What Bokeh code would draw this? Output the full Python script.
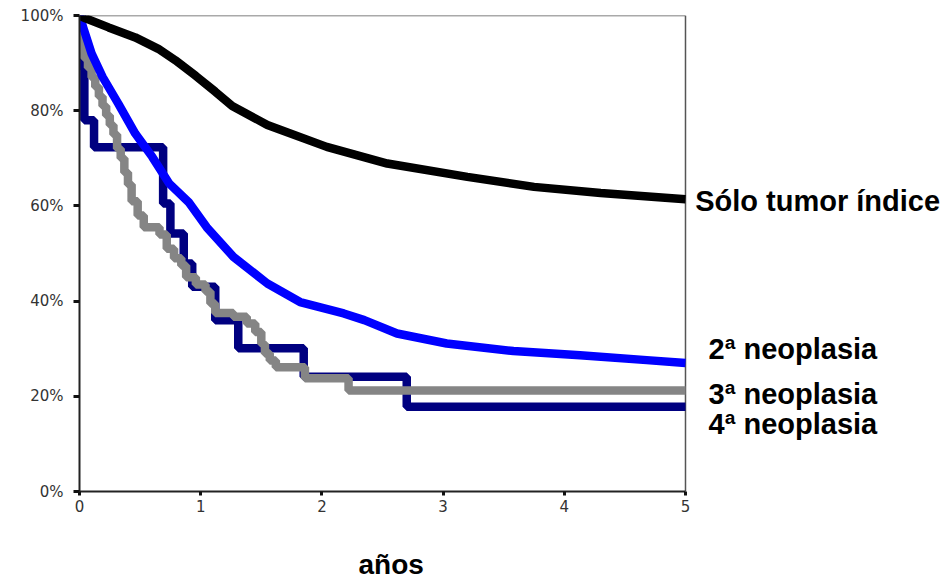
from bokeh.plotting import figure
from bokeh.models import Range1d, FixedTicker, Title
from bokeh.core.properties import value
from bokeh.embed import file_html
from bokeh.resources import INLINE

# ---- data ----
years = [0, 1, 2, 3, 4, 5]
pct_ticks = [0, 20, 40, 60, 80, 100]
pct_labels = ["0%", "20%", "40%", "60%", "80%", "100%"]

solo_t = [0, 0.05, 0.24, 0.46, 0.65, 0.79, 0.96, 1.12, 1.26, 1.55, 2.04, 2.54, 3.2, 3.75, 4.3, 5.0]
solo_s = [100, 99.4, 97.5, 95.4, 93.0, 90.6, 87.3, 84.0, 81.0, 77.0, 72.4, 68.9, 66.1, 64.0, 62.7, 61.4]

neo2_t = [0, 0.02, 0.10, 0.19, 0.32, 0.46, 0.60, 0.74, 0.90, 1.05, 1.27, 1.55, 1.82, 2.18,
          2.35, 2.62, 3.03, 3.58, 4.13, 4.68, 5.0]
neo2_s = [100, 98.3, 92.0, 87.1, 81.5, 75.2, 70.3, 64.7, 60.8, 55.5, 49.3, 43.7, 39.8, 37.4,
          36.0, 33.2, 31.1, 29.5, 28.6, 27.6, 27.0]

neo3_t = [0, 0.01, 0.04, 0.07, 0.10, 0.13, 0.16, 0.19, 0.22, 0.25, 0.28, 0.31, 0.34, 0.37,
          0.40, 0.43, 0.48, 0.53, 0.66, 0.72, 0.78, 0.84, 0.88, 0.96, 1.04, 1.08, 1.12,
          1.27, 1.38, 1.45, 1.50, 1.53, 1.57, 1.62, 1.86, 2.22, 5.0]
neo3_s = [100, 93, 91, 89, 87, 85, 83, 81, 79, 77, 75, 72, 70, 67,
          64.5, 61, 58, 55.5, 54, 51, 49, 47.5, 45, 43.5, 42, 39.5, 37.5,
          36.7, 35.3, 33.5, 31, 29, 27.5, 26.1, 23.8, 21.2, 21.2]

neo4_t = [0, 0.02, 0.04, 0.12, 0.69, 0.75, 0.86, 0.93, 1.12, 1.31, 1.85, 2.70, 5.0]
neo4_s = [100, 89, 78, 72.3, 60.5, 54.2, 47.9, 43.0, 36.0, 30.1, 24.1, 17.8, 17.8]

series_names = ["Sólo tumor índice", "2ª neoplasia", "3ª neoplasia", "4ª neoplasia"]
x_title = "años"

X_MAX = 5
Y_MAX = 100
# frame extends to the right edge of the page so the series names can sit beside the curves
X_VIEW_MAX = 7.137

# ---- figure ----
p = figure(width=944, height=581, output_backend="svg", toolbar_location=None,
           x_range=Range1d(0, X_VIEW_MAX), y_range=Range1d(0, Y_MAX),
           min_border_left=79, min_border_right=0, min_border_top=15, min_border_bottom=90)
p.background_fill_color = "white"
p.border_fill_color = "white"
p.outline_line_color = None
p.xgrid.visible = False
p.ygrid.visible = False

# plot box: top and right edges
p.segment(x0=[0, X_MAX], y0=[Y_MAX, 0], x1=[X_MAX, X_MAX], y1=[Y_MAX, Y_MAX],
          line_color="#555555", line_width=1.5)

lw = 8.5
p.step(neo4_t, neo4_s, mode="after", line_color="#000080", line_width=lw)
p.step(neo3_t, neo3_s, mode="after", line_color="#858585", line_width=lw)
p.line(neo2_t, neo2_s, line_color="#0000FF", line_width=lw)
p.line(solo_t, solo_s, line_color="#000000", line_width=lw)

# axes
for ax in (p.xaxis[0], p.yaxis[0]):
    ax.axis_line_color = "#222222"
    ax.axis_line_width = 2
    ax.major_tick_line_color = "#111111"
    ax.minor_tick_line_color = None
    ax.major_tick_in = 0
    ax.major_label_text_font = "DejaVu Sans"
    ax.major_label_text_font_size = "15px"
    ax.major_label_text_color = "#333333"

p.yaxis.ticker = FixedTicker(ticks=pct_ticks)
p.yaxis.major_label_overrides = {t: l for t, l in zip(pct_ticks, pct_labels)}
p.yaxis.major_tick_out = 6
p.yaxis.major_tick_line_width = 3
p.yaxis.major_label_standoff = 10

p.xaxis.ticker = FixedTicker(ticks=years)
p.xaxis.bounds = (0, X_MAX)
p.xaxis.major_tick_out = 4
p.xaxis.major_tick_line_width = 3
p.xaxis.major_label_standoff = 4

# series labels at right
label_x = [5.08, 5.19, 5.19, 5.19]
label_y = [61.0, 29.9, 20.5, 14.2]
p.text(x=label_x, y=label_y, text=series_names, text_font=value("Liberation Sans"),
       text_font_style="bold", text_font_size="29px", text_color="black",
       text_baseline="alphabetic", text_align="left")

# blank spacer panel between the axis and the x title
p.add_layout(Title(text=" ", text_font_size="28px", standoff=1), "below")
# x title
t = Title(text=x_title, align="left", offset=279, text_font="Liberation Sans",
          text_font_style="bold", text_font_size="28px", text_color="black",
          vertical_align="top", standoff=0)
p.add_layout(t, "below")

open("out.html", "w").write(file_html(p, INLINE))
